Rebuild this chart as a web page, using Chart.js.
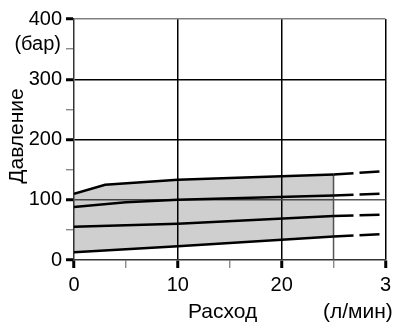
<!DOCTYPE html>
<html>
<head>
<meta charset="utf-8">
<script src="https://cdn.jsdelivr.net/npm/chart.js@4/dist/chart.umd.min.js"></script>
<style>
  html, body { margin: 0; padding: 0; background: #fff; }
  #wrap { width: 396px; height: 324px; }
</style>
</head>
<body>
<div id="wrap"><canvas id="pumpChart" width="396" height="324"></canvas></div>
<script>
// Кривые давления (бар) по расходу (л/мин)
const flowA = [0, 3, 10, 25];
const pressA = [110, 125, 133, 142];
const flowB = [0, 5, 10, 25];
const pressB = [88, 96, 100, 107];
const flowC = [0, 10, 25];
const pressC = [55, 60, 73];
const flowD = [0, 10, 25];
const pressD = [13, 23, 39];

// пунктирное продолжение после 25 л/мин
const extFlow = [25, 29.6];
const extPressA = [142, 147];
const extPressB = [107, 110];
const extPressC = [73, 75];
const extPressD = [39, 43];

const yTicks = [0, 100, 200, 300, 400];
const xTicks = ['0', '10', '20', '3'];

const FONT = '"Liberation Sans", Arial, sans-serif';
const pts = (xs, ys) => xs.map((x, i) => ({ x, y: ys[i] }));

const solid = (xs, ys, extra) => Object.assign({
  data: pts(xs, ys),
  borderColor: '#000',
  borderWidth: 2.5,
  pointRadius: 0,
  tension: 0,
  fill: false
}, extra || {});

const dashed = (ys) => ({
  data: pts(extFlow, ys),
  borderColor: '#000',
  borderWidth: 2.5,
  borderDash: [20, 6],
  pointRadius: 0,
  fill: false
});

const labelsPlugin = {
  id: 'axisText',
  afterDraw(chart) {
    const ctx = chart.ctx;
    ctx.save();
    ctx.fillStyle = '#000';
    ctx.font = '21px ' + FONT;
    ctx.textBaseline = 'alphabetic';
    ctx.textAlign = 'left';
    ctx.fillText('Расход', 188, 318);
    ctx.fillText('(л/мин)', 323, 318);
    ctx.textAlign = 'right';
    ctx.font = '20px ' + FONT;
    ctx.fillText('(бар)', 61, 50);
    ctx.translate(23, 136);
    ctx.rotate(-Math.PI / 2);
    ctx.textAlign = 'center';
    ctx.font = '21px ' + FONT;
    ctx.fillText('Давление', 0, 0);
    ctx.restore();
  }
};

const yGridColor = v => {
  if (v === 400) return '#808080';
  if (v === 300 || v === 200) return '#000';
  if (v === 100) return '#555';
  return 'rgba(0,0,0,0)';
};
const xGridColor = v => (v === 10 || v === 20 || v === 30) ? '#000' : 'rgba(0,0,0,0)';

new Chart(document.getElementById('pumpChart'), {
  type: 'line',
  data: {
    datasets: [
      solid(flowA, pressA, { fill: { target: 3 }, backgroundColor: 'rgba(0,0,0,0.19)' }),
      solid(flowB, pressB),
      solid(flowC, pressC),
      solid(flowD, pressD),
      dashed(extPressA),
      dashed(extPressB),
      dashed(extPressC),
      dashed(extPressD),
      {
        data: pts([25, 25], [0, pressA[pressA.length - 1]]),
        borderColor: '#555',
        borderWidth: 1.5,
        pointRadius: 0,
        fill: false
      }
    ]
  },
  options: {
    responsive: false,
    animation: false,
    events: [],
    layout: { padding: { top: 19, right: 7, left: 0, bottom: 0 } },
    plugins: { legend: { display: false }, tooltip: { enabled: false } },
    scales: {
      x: {
        type: 'linear',
        min: 0,
        max: 30,
        afterFit: s => { s.height = 64; },
        afterBuildTicks: s => { s.ticks = [0, 5, 10, 15, 20, 25, 30].map(v => ({ value: v })); },
        ticks: {
          autoSkip: false,
          maxRotation: 0,
          padding: 5,
          color: '#000',
          font: { family: FONT, size: 20 },
          callback: v => (v % 10 === 0 ? xTicks[v / 10] : '')
        },
        grid: {
          color: c => xGridColor(c.tick.value),
          lineWidth: 1.5,
          tickLength: 8,
          tickColor: c => (c.tick.value % 10 === 0 ? '#000' : '#777'),
          tickWidth: c => (c.tick.value % 10 === 0 ? 3 : 1.2)
        },
        border: { display: true, color: '#333', width: 1.5 }
      },
      y: {
        min: 0,
        max: 400,
        afterFit: s => { s.width = 74; },
        afterBuildTicks: s => { s.ticks = [0, 50, 100, 150, 200, 250, 300, 350, 400].map(v => ({ value: v })); },
        ticks: {
          autoSkip: false,
          padding: 4,
          color: '#000',
          font: { family: FONT, size: 20 },
          callback: v => (yTicks.includes(v) ? String(v) : '')
        },
        grid: {
          color: c => yGridColor(c.tick.value),
          lineWidth: 1.5,
          tickLength: 8,
          tickColor: c => (c.tick.value % 100 === 0 ? '#000' : '#777'),
          tickWidth: c => (c.tick.value % 100 === 0 ? 3 : 1.2)
        },
        border: { display: true, color: '#333', width: 1.5 }
      }
    }
  },
  plugins: [labelsPlugin]
});
</script>
</body>
</html>
